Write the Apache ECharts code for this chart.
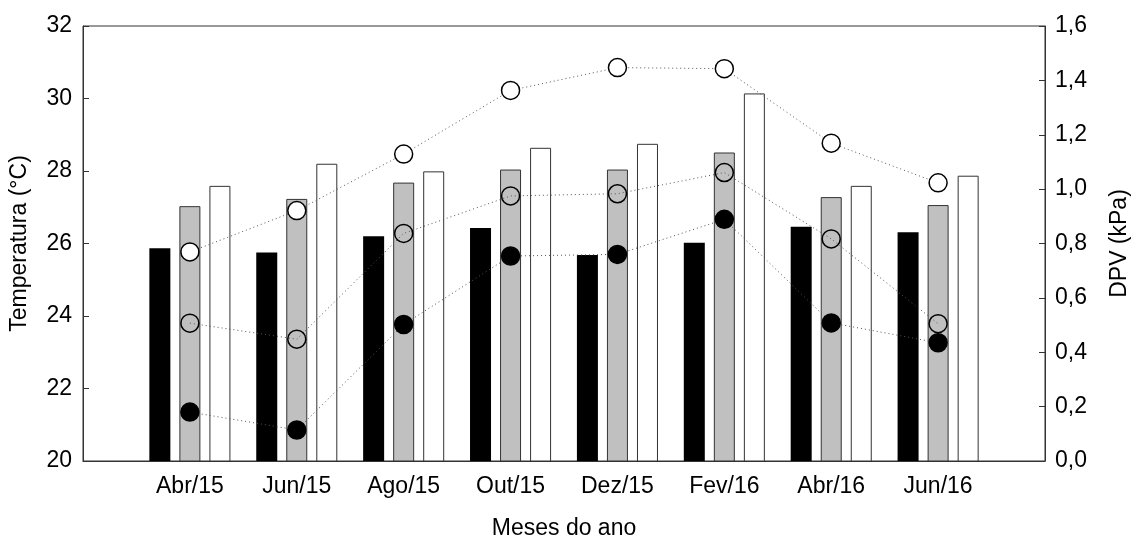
<!DOCTYPE html>
<html>
<head>
<meta charset="utf-8">
<script src="https://cdn.jsdelivr.net/npm/echarts@6/dist/echarts.min.js"></script>
<style>
  html, body { margin: 0; padding: 0; background: #fff; }
  #chart { width: 1139px; height: 545px; }
</style>
</head>
<body>
<div id="chart"></div>
<script>
// Months sampled
const months = ['Abr/15', 'Jun/15', 'Ago/15', 'Out/15', 'Dez/15', 'Fev/16', 'Abr/16', 'Jun/16'];

// Temperature (°C) bars
const tempBlack = [25.87, 25.75, 26.20, 26.43, 25.68, 26.02, 26.46, 26.31];
const tempGray  = [27.03, 27.23, 27.68, 28.04, 28.04, 28.51, 27.28, 27.06];
const tempWhite = [27.59, 28.20, 27.99, 28.64, 28.75, 30.14, 27.59, 27.87];

// DPV (kPa) points
const dpvUpper  = [0.769, 0.921, 1.129, 1.363, 1.447, 1.443, 1.169, 1.023];
const dpvMiddle = [0.507, 0.448, 0.837, 0.975, 0.983, 1.061, 0.817, 0.505];
const dpvLower  = [0.180, 0.114, 0.502, 0.754, 0.760, 0.889, 0.508, 0.435];

// Axis ranges
const tempAxis = { min: 20, max: 32, step: 2 };
const dpvAxis = { min: 0, max: 1.6, step: 0.2 };

// one empty slot on each side of the months
const pad = arr => [null, ...arr, null];
const axisCats = ['', ...months, ''];

const FONT = "'Liberation Sans', Arial, sans-serif";
const FONT_SIZE = 23;
const AXIS_COLOR = '#333';

const chart = echarts.init(document.getElementById('chart'), null, { renderer: 'canvas' });

const barSeries = (data, fill, border) => ({
  type: 'bar',
  yAxisIndex: 0,
  data: pad(data),
  barWidth: 21,
  barGap: '43%',
  itemStyle: { color: fill, borderColor: border, borderWidth: border ? 1 : 0 },
  emphasis: { disabled: true },
  silent: true
});

const pointSeries = (data, fill) => ({
  type: 'line',
  yAxisIndex: 1,
  data: pad(data),
  symbol: 'circle',
  symbolSize: 18,
  showAllSymbol: true,
  connectNulls: false,
  itemStyle: { color: fill, borderColor: '#000', borderWidth: 1.5 },
  lineStyle: { color: '#555', width: 1, type: [1, 3] },
  emphasis: { disabled: true },
  silent: true,
  z: 5
});

const labelText = { fontFamily: FONT, fontSize: FONT_SIZE, color: '#000' };

chart.setOption({
  animation: false,
  backgroundColor: '#fff',
  textStyle: { fontFamily: FONT },
  grid: {
    left: 83, right: 86, top: 26, bottom: 75,
    show: true, borderColor: AXIS_COLOR, borderWidth: 1, backgroundColor: 'transparent'
  },
  xAxis: {
    type: 'category',
    data: axisCats,
    boundaryGap: false,
    name: 'Meses do ano',
    nameLocation: 'middle',
    nameGap: 56,
    nameTextStyle: labelText,
    axisLine: { show: true, lineStyle: { color: AXIS_COLOR, width: 1 } },
    axisTick: { show: false },
    axisLabel: Object.assign({ margin: 14, interval: 0 }, labelText),
    splitLine: { show: false }
  },
  yAxis: [
    {
      type: 'value',
      position: 'left',
      min: tempAxis.min, max: tempAxis.max, interval: tempAxis.step,
      name: 'Temperatura (°C)',
      nameLocation: 'middle',
      nameRotate: 90,
      nameGap: 52,
      nameTextStyle: labelText,
      axisLine: { show: true, lineStyle: { color: AXIS_COLOR, width: 1 } },
      axisTick: { show: true, inside: true, length: 6, lineStyle: { color: AXIS_COLOR } },
      axisLabel: Object.assign({ margin: 11 }, labelText),
      splitLine: { show: false }
    },
    {
      type: 'value',
      position: 'right',
      min: dpvAxis.min, max: dpvAxis.max, interval: dpvAxis.step,
      name: 'DPV (kPa)',
      nameLocation: 'middle',
      nameRotate: 90,
      nameGap: 63,
      nameTextStyle: labelText,
      axisLine: { show: true, lineStyle: { color: AXIS_COLOR, width: 1 } },
      axisTick: { show: true, inside: true, length: 6, lineStyle: { color: AXIS_COLOR } },
      axisLabel: Object.assign({
        margin: 10,
        formatter: v => v.toFixed(1).replace('.', ',')
      }, labelText),
      splitLine: { show: false }
    }
  ],
  series: [
    barSeries(tempBlack, '#000', null),
    barSeries(tempGray, '#c0c0c0', '#333'),
    barSeries(tempWhite, '#fff', '#333'),
    pointSeries(dpvUpper, '#fff'),
    // hollow rings: the bar behind shows through
    pointSeries(dpvMiddle, 'transparent'),
    pointSeries(dpvLower, '#000')
  ]
});
</script>
</body>
</html>
